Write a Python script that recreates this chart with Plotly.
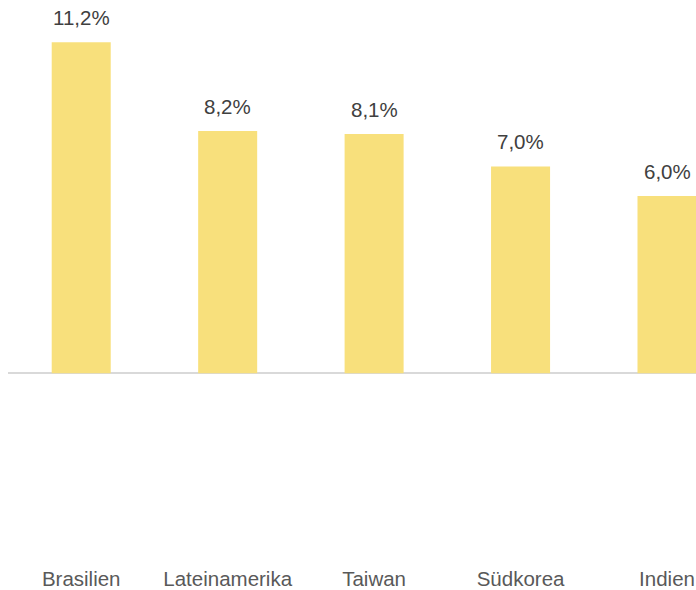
import plotly.graph_objects as go

categories = ["Brasilien", "Lateinamerika", "Taiwan", "Südkorea", "Indien"]
values = [11.2, 8.2, 8.1, 7.0, 6.0]
value_labels = ["11,2%", "8,2%", "8,1%", "7,0%", "6,0%"]

fig = go.Figure()
fig.add_trace(go.Bar(
    x=categories, y=values,
    width=0.403,
    marker=dict(color="#F8E07C", line=dict(width=0)),
    hoverinfo="skip",
))

for c, v, t in zip(categories, values, value_labels):
    fig.add_annotation(x=c, y=v, text=t, showarrow=False,
                       yanchor="bottom", yshift=11,
                       font=dict(family="Liberation Sans, Arial", size=20.5, color="#404040"))

fig.update_layout(
    width=696, height=590,
    margin=dict(l=8, r=0, t=0, b=20),
    paper_bgcolor="white", plot_bgcolor="white",
    showlegend=False,
    font=dict(family="Liberation Sans, Arial", size=20.5, color="#595959"),
    xaxis=dict(range=[-0.5, 4.198], showgrid=False, showline=False, zeroline=False,
               ticks="", tickfont=dict(size=20.5, color="#595959")),
    yaxis=dict(range=[-6.45, 12.63], showgrid=False, showticklabels=False,
               zeroline=True, zerolinecolor="#D9D9D9", zerolinewidth=2, showline=False),
)

fig.write_html("out.html", config={"displayModeBar": False},
               post_script="document.body.style.margin='0';document.body.style.overflow='hidden';")
